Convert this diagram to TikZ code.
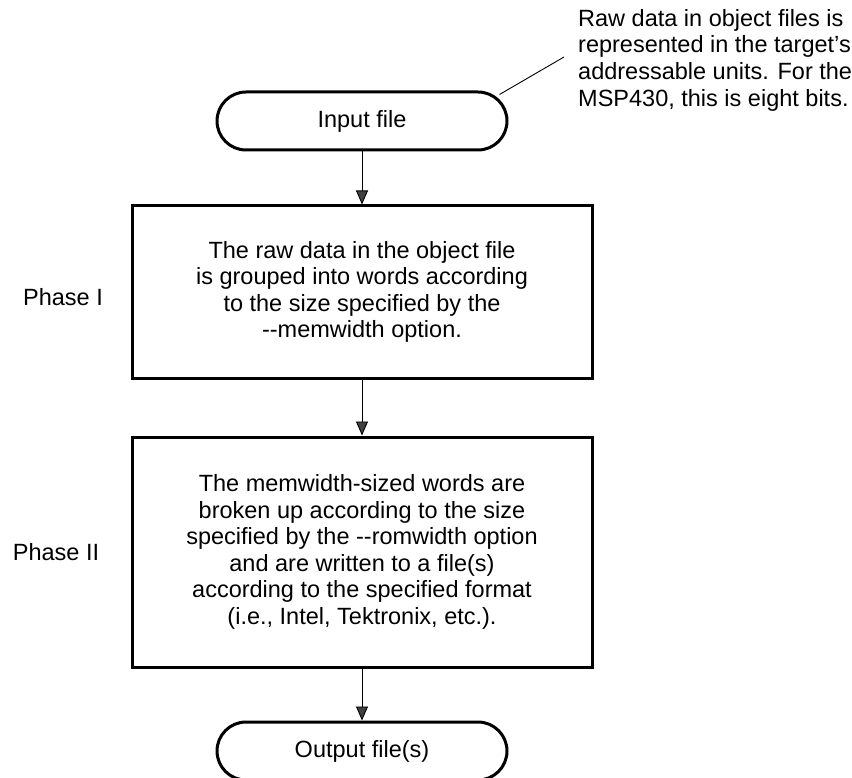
\documentclass[tikz,border=0pt]{standalone}
\usepackage{fontspec}
\setmainfont{Liberation Sans}
\usetikzlibrary{arrows.meta}
\begin{document}
\begin{tikzpicture}[x=1pt,y=-1pt,
  txt/.style={font=\fontsize{23.5}{26.6}\selectfont},
  term/.style={txt,draw,line width=3pt,rounded corners=29pt,minimum width=290pt,minimum height=58pt,inner sep=0pt},
  procbox/.style={txt,draw,line width=3pt,minimum width=460pt,inner sep=0pt,align=center},
  lbl/.style={txt,inner sep=0pt},
  conn/.style={line width=0.9pt,-{Triangle[length=14pt,width=12pt,fill=black!75]}}]
\useasboundingbox (0,0) rectangle (852,778);
\node[term] (in) at (362,121) {Input file};
\node[procbox,minimum height=172pt] (p1) at (362,292) {The raw data in the object file\\is grouped into words according\\to the size specified by the\\-{}-memwidth option.};
\node[procbox,minimum height=230pt] (p2) at (362,552) {The memwidth-sized words are\\broken up according to the size\\specified by the -{}-romwidth option\\and are written to a file(s)\\according to the specified format\\(i.e., Intel, Tektronix, etc.).};
\node[term] (out) at (362,751) {Output file(s)};
\node[lbl] (ph1) at (63,297) {Phase I};
\node[lbl] (ph2) at (56,552) {Phase II};
\node[lbl,align=left,anchor=north west] (note) at (578,9) {Raw data in object files is\\represented in the target's\\addressable units. For the\\MSP430, this is eight bits.};
\coordinate (lead) at (564,57);
\draw[line width=0.9pt] (in.north east) ++(-9,4) coordinate (le) -- (lead);
\draw[conn] (in) -- (p1);
\draw[conn] (p1) -- (p2);
\draw[conn] (p2) -- (out);
\end{tikzpicture}
\end{document}
